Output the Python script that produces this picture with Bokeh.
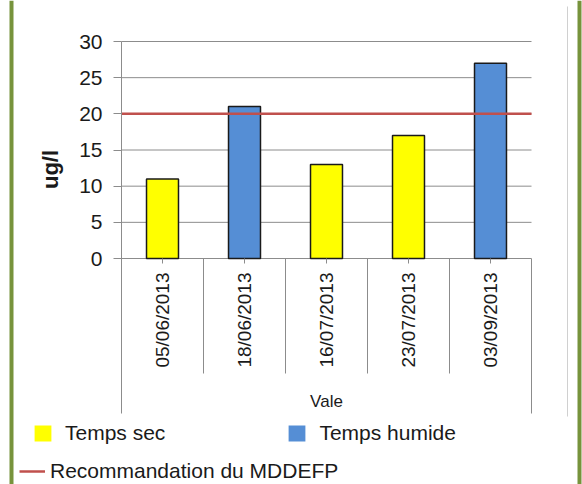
import math

from bokeh.core.properties import value
from bokeh.embed import file_html
from bokeh.models import (BoxAnnotation, ColumnDataSource, FixedTicker, Legend, LegendItem,
                          LinearAxis, Range1d)
from bokeh.plotting import figure
from bokeh.resources import INLINE

# --- data -------------------------------------------------------------------
dates = ["05/06/2013", "18/06/2013", "16/07/2013", "23/07/2013", "03/09/2013"]
concentrations = [11, 21, 13, 17, 27]          # ug/l
weather = ["sec", "humide", "sec", "sec", "humide"]
site = "Vale"
guideline = 20                                  # MDDEFP recommendation, ug/l
y_ticks = [0, 5, 10, 15, 20, 25, 30]
weather_labels = {"sec": "Temps sec", "humide": "Temps humide"}
guideline_label = "Recommandation du MDDEFP"
unit_label = "ug/l"

# --- style ------------------------------------------------------------------
FONT = "Liberation Sans"
YELLOW = "#FFFF00"
BLUE = "#558ED5"
RED = "#C0504D"
GRID = "#8C8C8C"
GREEN = "#77933C"
TEXT = "#1A1A1A"
weather_colors = {"sec": YELLOW, "humide": BLUE}

W, H = 582, 484
PLOT_LEFT, PLOT_RIGHT = 121, 531      # pixel edges of the category area
ZERO_Y, TOP_Y = 258, 41               # pixel rows of 0 and 30 on the value axis
CAT_PX = (PLOT_RIGHT - PLOT_LEFT) / len(dates)
PX_PER_UNIT = (ZERO_Y - TOP_Y) / float(y_ticks[-1])


def ux(px):
    """horizontal pixel offset -> category units"""
    return px / CAT_PX


def uy(px):
    """vertical pixel offset -> value units"""
    return px / PX_PER_UNIT


n = len(dates)
band_bottom = -uy(155)        # lower end of the category band
x_lo = -ux(PLOT_LEFT)
y_lo = -uy(H - ZERO_Y)

p = figure(
    width=W, height=H,
    x_range=Range1d(x_lo, n + ux(W - PLOT_RIGHT)),
    y_range=Range1d(y_lo, y_ticks[-1] + uy(TOP_Y)),
    x_axis_location=None, y_axis_location=None,
    output_backend="svg", toolbar_location=None,
    min_border=0,
)
p.xgrid.visible = False
p.ygrid.visible = False
p.outline_line_color = None
p.background_fill_color = "white"
p.border_fill_color = "white"

centers = [i + 0.5 for i in range(n)]

# value axis, drawn on the left edge of the category area
yaxis = LinearAxis(
    fixed_location=0, bounds=(band_bottom, y_ticks[-1]),
    ticker=FixedTicker(ticks=y_ticks),
    major_tick_out=8, major_tick_in=0, minor_tick_out=0, minor_tick_in=0,
    axis_line_color=GRID, major_tick_line_color=GRID,
    major_label_text_font=FONT, major_label_text_font_size="21px",
    major_label_text_color=TEXT, major_label_standoff=11,
)
p.add_layout(yaxis, "left")

# horizontal grid lines (the one at 0 doubles as the category axis line)
p.segment(x0=0, x1=n, y0=y_ticks, y1=y_ticks, line_color=GRID, line_width=1)

# bars
src = ColumnDataSource(dict(
    x=centers,
    date=dates,
    value=concentrations,
    color=[weather_colors[w] for w in weather],
))
p.vbar(x="x", top="value", width=0.39, source=src,
       fill_color="color", line_color=TEXT, line_width=1.5)

# guideline
guide = p.segment(x0=[0], x1=[n], y0=[guideline], y1=[guideline],
                  line_color=RED, line_width=2.5)

# category band: tick marks, separators, labels
p.segment(x0="x", x1="x", y0=0, y1=-uy(5), source=src, line_color=GRID, line_width=1)
inner = list(range(1, n))
p.segment(x0=inner, x1=inner, y0=0, y1=-uy(115), line_color=GRID, line_width=1)
p.segment(x0=[n], x1=[n], y0=[0], y1=[band_bottom], line_color=GRID, line_width=1)

p.text(x="x", y=-uy(14), text="date", source=src,
       angle=math.pi / 2, text_align="right", text_baseline="middle",
       text_font=value(FONT), text_font_size="19px", text_color=TEXT)
p.text(x=[n / 2], y=[-uy(143)], text=[site],
       text_align="center", text_baseline="middle",
       text_font=value(FONT), text_font_size="17px", text_color=TEXT)

# unit label
p.text(x=[-ux(PLOT_LEFT - 50)], y=[uy(ZERO_Y - 169)], text=[unit_label],
       angle=math.pi / 2, text_align="center", text_baseline="middle",
       text_font=value(FONT), text_font_size="22px", text_font_style="bold",
       text_color=TEXT)

# legend keys: plain squares without outline, kept off the visible area
dry_key = p.vbar(x=[x_lo - 5], top=[y_lo - 5], bottom=[y_lo - 6], width=0.39,
                 fill_color=YELLOW, line_color=None)
wet_key = p.vbar(x=[x_lo - 5], top=[y_lo - 5], bottom=[y_lo - 6], width=0.39,
                 fill_color=BLUE, line_color=None)

legend_style = dict(padding=0, margin=0, border_line_color=None, background_fill_alpha=0,
                    label_text_font=FONT, label_text_font_size="21px", label_text_color=TEXT,
                    label_height=24)
p.add_layout(Legend(
    items=[LegendItem(label=weather_labels["sec"], renderers=[dry_key]),
           LegendItem(label=weather_labels["humide"], renderers=[wet_key])],
    orientation="horizontal", location=(32, 39),
    glyph_width=21, glyph_height=20, label_standoff=12, spacing=121, **legend_style))
p.add_layout(Legend(
    items=[LegendItem(label=guideline_label, renderers=[guide])],
    location=(19, 1), glyph_width=26, glyph_height=24, label_standoff=5, **legend_style))

# page frame
for left, right in [(9, 13), (577, 581)]:
    p.add_layout(BoxAnnotation(left=left, right=right, top=H, bottom=0,
                               left_units="screen", right_units="screen",
                               top_units="screen", bottom_units="screen",
                               fill_color=GREEN, fill_alpha=1, line_color=None))
p.add_layout(BoxAnnotation(left=566.5, right=567.5, top=H - 6, bottom=H - 416,
                           left_units="screen", right_units="screen",
                           top_units="screen", bottom_units="screen",
                           fill_color="#D0D0D0", fill_alpha=1, line_color=None))

open("out.html", "w").write(file_html(p, INLINE))
